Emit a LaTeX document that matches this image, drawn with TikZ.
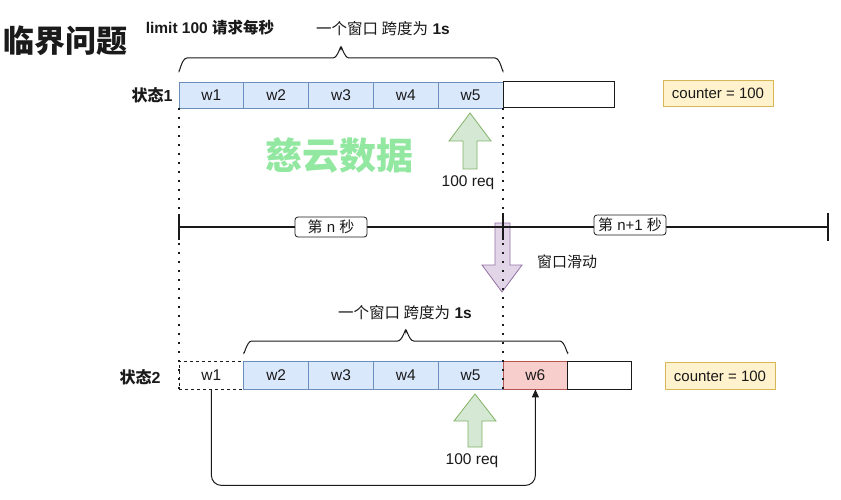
\documentclass[tikz,border=0pt]{standalone}
\usepackage{fontspec}
\setmainfont{Liberation Sans}
\newfontfamily\cjk{Noto Sans CJK SC}
\usetikzlibrary{arrows.meta}
\definecolor{cellfill}{HTML}{DAE8FC}
\definecolor{cellline}{HTML}{6C8EBF}
\definecolor{redfill}{HTML}{F8CECC}
\definecolor{redline}{HTML}{B85450}
\definecolor{yelfill}{HTML}{FFF2CC}
\definecolor{yelline}{HTML}{D6B656}
\definecolor{grnfill}{HTML}{D5E8D4}
\definecolor{grnline}{HTML}{82B366}
\definecolor{purfill}{HTML}{E1D5E7}
\definecolor{purline}{HTML}{9673A6}
\definecolor{wmgreen}{RGB}{146,232,160}
\definecolor{ink}{HTML}{1A1A1A}
\tikzset{
  txt/.style={inner sep=0pt, text=ink, font=\fontsize{15.5}{18}\selectfont},
  cell/.style={draw=cellline, fill=cellfill, line width=0.8pt, minimum width=64.8pt, minimum height=26pt, inner sep=0pt, text=ink, font=\fontsize{15.5}{18}\selectfont},
  redcell/.style={cell, draw=redline, fill=redfill},
  dashcell/.style={cell, draw=ink, fill=white, dashed},
  emptycell/.style={draw=ink, fill=white, line width=1pt, minimum height=26pt, inner sep=0pt},
  counter/.style={draw=yelline, fill=yelfill, line width=0.8pt, minimum width=110pt, minimum height=26pt, inner sep=0pt, text=ink, font=\fontsize{15}{18}\selectfont},
  statelbl/.style={inner sep=0pt, text=ink, font=\bfseries\fontsize{16}{18}\selectfont},
  seclbl/.style={draw=ink, fill=white, rounded corners=3pt, line width=0.8pt, minimum width=72pt, minimum height=20pt, inner sep=0pt, text=ink, font=\fontsize{15}{17}\selectfont},
  dotline/.style={ink, line width=2pt, dash pattern=on 2pt off 7pt},
  axis/.style={ink, line width=1.1pt},
  bracepath/.style={ink, line width=1pt},
  conn/.style={ink, line width=1pt, rounded corners=10pt, -{Triangle[length=8pt,width=7pt]}},
  greenarrow/.style={draw=grnline, fill=grnfill, line width=0.8pt, line join=miter},
  purplearrow/.style={draw=purline, fill=purfill, line width=0.8pt, line join=miter}
}
\begin{document}
\begin{tikzpicture}[x=1pt,y=-1pt]
\useasboundingbox[fill=white] (0,0) rectangle (841,500);

% title and headers
\node[inner sep=0pt, text=ink, font=\cjk\bfseries\fontsize{31}{34}\selectfont] (title) at (65,41) {临界问题};
\node[inner sep=0pt, text=ink, font=\bfseries\fontsize{15.5}{18}\selectfont] (limit) at (210,28) {limit 100 {\cjk 请求每秒}};
\node[txt] (span1) at (383,29) {{\cjk 一个窗口 跨度为} \textbf{1s}};

% brace 1
\draw[bracepath] (179,70) to[out=-90,in=180] (187,58) -- (333,58) to[out=0,in=90] (341,48) to[out=90,in=180] (349,58) -- (495,58) to[out=0,in=-90] (503,70);

% watermark
\node[inner sep=0pt, text=wmgreen, font=\cjk\bfseries\fontsize{37}{40}\selectfont] (wm) at (339,155) {慈云数据};

% state 1 row
\node[statelbl] (s1) at (152,95) {{\cjk 状态}1};
\node[cell] (a1) at (211.4,95) {w1};
\node[cell] (a2) at (276.2,95) {w2};
\node[cell] (a3) at (341.0,95) {w3};
\node[cell] (a4) at (405.8,95) {w4};
\node[cell] (a5) at (470.6,95) {w5};
\node[emptycell, minimum width=111pt] (a6) at (558.5,95) {};
\node[counter] (c1) at (718,93) {counter = 100};

% green arrow 1
\draw[greenarrow] (470,113) -- (491,141) -- (477,141) -- (477,169) -- (463,169) -- (463,141) -- (449,141) -- cycle;
\node[txt] (req1) at (468,183) {100 req};

% purple arrow (window slides)
\draw[purplearrow] (495,223) -- (510,223) -- (510,265) -- (522,265) -- (502,292) -- (482,265) -- (495,265) -- cycle;
\node[txt, font=\cjk\fontsize{15}{17}\selectfont] (slide) at (567,262) {窗口滑动};

% timeline
\coordinate (t0) at (179,227);
\coordinate (t2) at (828,227);
\draw[axis] (t0) -- (t2);
\draw[axis] (179,214) -- (179,240);
\draw[ink, line width=2pt] (503,213) -- (503,240);
\draw[axis] (828,213) -- (828,241);
\node[seclbl] (n1) at (331,227) {{\cjk 第} n {\cjk 秒}};
\node[seclbl] (n2) at (630,225) {{\cjk 第} n+1 {\cjk 秒}};

% state 2 row
\node[txt] (span2) at (405,313) {{\cjk 一个窗口 跨度为} \textbf{1s}};
\draw[bracepath] (243.8,352) to[out=-90,in=180] (251.8,341) -- (397.8,341) to[out=0,in=90] (405.8,331) to[out=90,in=180] (413.8,341) -- (559.8,341) to[out=0,in=-90] (567.8,352);

\node[statelbl] (s2) at (140,377) {{\cjk 状态}2};
\node[dashcell, minimum height=28pt] (b1) at (211.4,375) {w1};
\node[cell, minimum height=28pt] (b2) at (276.2,375) {w2};
\node[cell, minimum height=28pt] (b3) at (341.0,375) {w3};
\node[cell, minimum height=28pt] (b4) at (405.8,375) {w4};
\node[cell, minimum height=28pt] (b5) at (470.6,375) {w5};
\node[redcell, minimum height=28pt] (b6) at (535.4,375) {w6};
\node[emptycell, minimum height=28pt, minimum width=63.2pt] (b7) at (599.4,375) {};
\node[counter, minimum height=27pt] (c2) at (720,376) {counter = 100};

% dotted guides
\draw[dotline] (a1.south west) -- (b1.south west);
\draw[dotline] (a5.south east) -- (b5.south east);

% green arrow 2
\draw[greenarrow] (475,394) -- (496,421) -- (482,421) -- (482,447) -- (468,447) -- (468,421) -- (454,421) -- cycle;
\node[txt] (req2) at (472,461) {100 req};

% connector w1 -> w6
\draw[conn] (b1.south) -- ++(0,96) -| (b6.south);
\end{tikzpicture}
\end{document}
